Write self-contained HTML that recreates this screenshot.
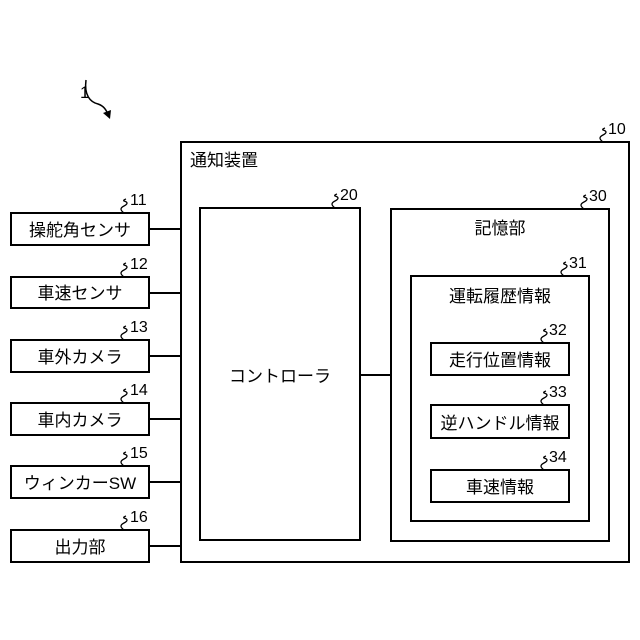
<!DOCTYPE html>
<html><head><meta charset="utf-8"><style>body{margin:0;background:#fff}svg{display:block}text{font-family:"Liberation Sans","Noto Sans CJK JP",sans-serif;fill:#000}</style></head><body>
<svg width="640" height="640" viewBox="0 0 640 640" xmlns="http://www.w3.org/2000/svg">
<defs><path id="sq" d="M0 0 C-4 -3 -4 -5 0 -7 C4 -9 4 -11 0 -12 Q-1 -13 2 -14" fill="none" stroke="#000" stroke-width="1.3"/></defs>
<g fill="none" stroke="#000" stroke-width="2">
<rect x="181" y="142" width="448" height="420"/>
<rect x="200" y="208" width="160" height="332"/>
<rect x="391" y="209" width="218" height="332"/>
<rect x="411" y="276" width="178" height="245"/>
<rect x="431" y="343" width="138" height="32"/>
<rect x="431" y="405" width="138" height="33"/>
<rect x="431" y="470" width="138" height="32"/>
<rect x="11" y="213" width="138" height="32"/>
<rect x="11" y="277" width="138" height="31"/>
<rect x="11" y="340" width="138" height="32"/>
<rect x="11" y="403" width="138" height="32"/>
<rect x="11" y="466" width="138" height="32"/>
<rect x="11" y="530" width="138" height="32"/>
<path d="M149 229H181M149 293H181M149 356H181M149 419H181M149 482H181M149 546H181M360 375H391"/>
</g>
<path d="M86 80 C84 95 90 102 98 104 C104 106 106 110 108 114" fill="none" stroke="#000" stroke-width="1.5"/>
<path d="M103 113 L110 119 L111 110 Z" fill="#000"/>
<text x="80" y="98" font-size="17">1</text>
<g>
<use href="#sq" x="603" y="142"/><text x="608" y="134" font-size="16">10</text>
<use href="#sq" x="335" y="208"/><text x="340" y="200" font-size="16">20</text>
<use href="#sq" x="584" y="209"/><text x="589" y="201" font-size="16">30</text>
<use href="#sq" x="564" y="276"/><text x="569" y="268" font-size="16">31</text>
<use href="#sq" x="544" y="343"/><text x="549" y="335" font-size="16">32</text>
<use href="#sq" x="544" y="405"/><text x="549" y="397" font-size="16">33</text>
<use href="#sq" x="544" y="470"/><text x="549" y="462" font-size="16">34</text>
<use href="#sq" x="124" y="213"/><text x="130" y="205" font-size="16">11</text>
<use href="#sq" x="124" y="277"/><text x="130" y="269" font-size="16">12</text>
<use href="#sq" x="124" y="340"/><text x="130" y="332" font-size="16">13</text>
<use href="#sq" x="124" y="403"/><text x="130" y="395" font-size="16">14</text>
<use href="#sq" x="124" y="466"/><text x="130" y="458" font-size="16">15</text>
<use href="#sq" x="124" y="530"/><text x="130" y="522" font-size="16">16</text>
</g>
<g font-size="17">
<text x="190" y="166">通知装置</text>
<text x="280" y="382" text-anchor="middle">コントローラ</text>
<text x="500" y="234" text-anchor="middle">記憶部</text>
<text x="500" y="302" text-anchor="middle">運転履歴情報</text>
<text x="500" y="366" text-anchor="middle">走行位置情報</text>
<text x="500" y="429" text-anchor="middle">逆ハンドル情報</text>
<text x="500" y="493" text-anchor="middle">車速情報</text>
<text x="80" y="236" text-anchor="middle">操舵角センサ</text>
<text x="80" y="299" text-anchor="middle">車速センサ</text>
<text x="80" y="363" text-anchor="middle">車外カメラ</text>
<text x="80" y="426" text-anchor="middle">車内カメラ</text>
<text x="80" y="489" text-anchor="middle">ウィンカーSW</text>
<text x="80" y="553" text-anchor="middle">出力部</text>
</g>
</svg>
</body></html>
